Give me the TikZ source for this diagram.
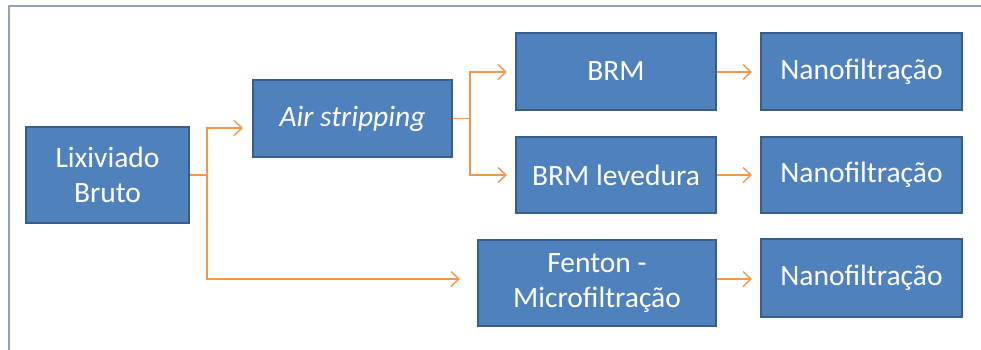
\documentclass[tikz,border=0pt]{standalone}
\usepackage{fontspec}
\setmainfont{Carlito}
\usetikzlibrary{arrows.meta}
\definecolor{boxfill}{HTML}{4F81BD}
\definecolor{boxline}{HTML}{385D8A}
\definecolor{arr}{HTML}{F79646}
\definecolor{frame}{HTML}{8FA3BF}
\tikzset{
  procbox/.style={draw=boxline, fill=boxfill, line width=2.5pt, text=white, inner sep=0pt,
    align=center, font=\fontsize{29.5}{35}\selectfont},
  flow/.style={draw=arr, line width=1.4pt, -{Straight Barb[length=8pt,width=15pt,line width=1.4pt]}},
  link/.style={draw=arr, line width=1.4pt}
}
\begin{document}
\begin{tikzpicture}[x=1pt,y=-1pt]
\useasboundingbox (0,0) rectangle (981,350);
\draw[frame, line width=2pt] (9,350) -- (9,6) -- (981,6);
\node[procbox, minimum width=163pt, minimum height=96pt] (lix) at (107.5,175) {Lixiviado\\Bruto};
\node[procbox, minimum width=199pt, minimum height=77pt] (air) at (352.5,118.5) {\itshape Air stripping};
\node[procbox, minimum width=200pt, minimum height=77pt] (brm1) at (616,71.5) {BRM};
\node[procbox, minimum width=200pt, minimum height=76pt] (brm2) at (616,175) {BRM levedura};
\node[procbox, minimum width=238pt, minimum height=86pt] (fen) at (597,283) {Fenton -\\Microfiltração};
\node[procbox, minimum width=201pt, minimum height=77pt] (n1) at (861.5,71.5) {Nanofiltração};
\node[procbox, minimum width=201pt, minimum height=76pt] (n2) at (861.5,175) {Nanofiltração};
\node[procbox, minimum width=201pt, minimum height=78pt] (n3) at (861.5,278) {Nanofiltração};
% branch points
\coordinate (j1) at (207,175);
\coordinate (a1) at (243,128);
\coordinate (f1) at (460,279);
\coordinate (j2) at (470,118.5);
\coordinate (b1) at (507,72);
\coordinate (b2) at (507,175);
\draw[link] (lix.east) -- (j1);
\draw[flow] (j1) |- (a1);
\draw[flow] (j1) |- (f1);
\draw[link] (air.east) -- (j2);
\draw[flow] (j2) |- (b1);
\draw[flow] (j2) |- (b2);
\draw[flow] (brm1.east |- 0,72) -- (752,72);
\draw[flow] (brm2.east) -- (752,175);
\draw[flow] (fen.east |- 0,279) -- (752,279);
\end{tikzpicture}
\end{document}
